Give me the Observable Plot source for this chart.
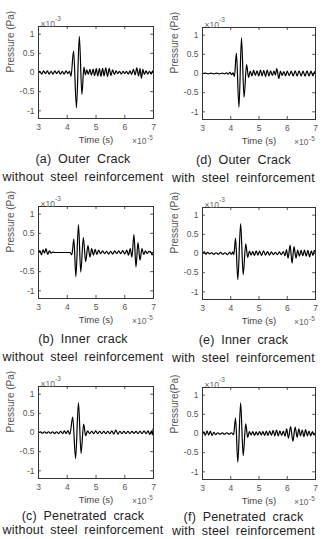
<!DOCTYPE html>
<html>
<head>
<meta charset="utf-8">
<script src="https://cdn.jsdelivr.net/npm/d3@7"></script>
<script src="https://cdn.jsdelivr.net/npm/@observablehq/plot@0.6"></script>
<style>
  body { margin: 0; background: #fff; font-family: "Liberation Sans", Arial, sans-serif; }
  #wrap { position: relative; width: 325px; height: 539px; overflow: hidden; background: #fff; }
  .panel { position: absolute; }
  .cap { position: absolute; text-align: center; white-space: nowrap; color: #222;
         font-size: 12.5px; line-height: 18px; word-spacing: 3px; letter-spacing: 0.2px; }
</style>
</head>
<body>
<div id="wrap"></div>
<script>
// Time axis in units of 1e-5 s, pressure in units of 1e-3 Pa.
const xTicks = [3, 4, 5, 6, 7];
const yTicks = [-1, -0.5, 0, 0.5, 1];
const panelTags = ["(a) Outer Crack", "(b) Inner crack", "(c) Penetrated crack",
                   "(d) Outer Crack", "(e) Inner crack", "(f) Penetrated crack"];
const steelNotes = ["without steel reinforcement", "with steel reinforcement"];
const yTitles = ["Pressure (Pa)", "Pressure (Pa)", "Pressure (Pa)",
                 "Pressure (Pa)", "Pressure (Pa)", "Pressure(Pa)"];

// Received pressure signals, [time, pressure] at successive peaks and troughs.
const outerWithout = [
  [3.00,0.00],[3.05,0.03],[3.11,-0.04],[3.18,0.04],[3.24,-0.03],[3.31,0.04],[3.37,-0.04],
  [3.44,0.03],[3.50,-0.04],[3.57,0.04],[3.63,-0.03],[3.70,0.04],[3.76,-0.04],[3.83,0.03],
  [3.89,-0.04],[3.96,0.04],[4.02,-0.03],[4.08,0.03],[4.13,-0.10],
  [4.22,0.56],[4.32,-0.92],[4.42,0.94],[4.51,-0.57],[4.58,0.14],[4.63,-0.06],
  [4.68,0.07],[4.73,-0.05],[4.79,0.08],[4.84,-0.07],[4.90,0.09],[4.95,-0.08],[5.01,0.10],
  [5.06,-0.09],[5.12,0.10],[5.17,-0.10],[5.23,0.11],[5.28,-0.09],[5.34,0.12],[5.40,-0.10],
  [5.46,0.11],[5.52,-0.08],[5.58,0.07],[5.64,-0.05],[5.70,0.04],[5.76,-0.03],[5.82,0.03],
  [5.88,-0.04],[5.94,0.03],[6.00,-0.03],[6.06,0.03],[6.12,-0.04],[6.18,0.04],[6.24,-0.05],
  [6.30,0.08],[6.36,-0.06],[6.42,0.12],[6.48,-0.09],[6.53,0.10],[6.58,-0.15],[6.63,0.08],
  [6.68,-0.05],[6.74,0.04],[6.80,-0.04],[6.86,0.03],[6.92,-0.04],[6.97,0.04],[7.00,0.00]
];
const innerWithout = [
  [3.00,0.00],[3.05,0.05],[3.10,-0.06],[3.16,0.07],[3.21,-0.02],[3.26,0.10],[3.32,-0.05],
  [3.38,0.04],[3.44,-0.02],[3.50,0.01],[3.60,0.00],[3.70,0.00],[3.80,0.00],[3.90,0.00],
  [4.00,0.00],[4.10,0.00],[4.16,-0.06],
  [4.23,0.35],[4.30,-0.63],[4.39,0.73],[4.47,-0.51],[4.56,0.39],[4.64,-0.24],[4.72,0.18],
  [4.79,-0.12],[4.85,0.10],[4.91,-0.07],[4.97,0.08],[5.03,-0.05],[5.09,0.06],[5.16,-0.03],
  [5.23,0.04],[5.30,-0.03],[5.37,0.03],[5.44,-0.04],[5.51,0.03],[5.58,-0.04],[5.65,0.04],
  [5.72,-0.03],[5.79,0.04],[5.86,-0.03],[5.93,0.05],[6.00,-0.04],[6.07,0.06],[6.13,-0.07],
  [6.19,0.10],[6.25,-0.12],
  [6.32,0.47],[6.39,-0.38],[6.46,0.26],[6.53,-0.20],[6.60,0.10],[6.66,-0.05],[6.72,0.04],
  [6.78,-0.03],[6.84,0.03],[6.90,0.02],[6.95,-0.06],[7.00,0.00]
];
const penetratedWithout = [
  [3.00,0.00],[3.07,0.02],[3.14,-0.02],[3.21,0.02],[3.28,-0.02],[3.35,0.02],[3.42,-0.02],
  [3.49,0.02],[3.56,-0.03],[3.63,0.02],[3.70,-0.03],[3.77,0.03],[3.84,-0.03],[3.90,0.04],
  [3.96,-0.03],[4.02,0.05],[4.09,-0.05],
  [4.19,0.40],[4.29,-0.68],[4.39,0.78],[4.48,-0.55],[4.57,0.22],[4.64,-0.08],
  [4.71,0.04],[4.78,-0.03],[4.85,0.03],[4.92,-0.03],[4.99,0.04],[5.06,-0.03],[5.13,0.03],
  [5.20,-0.03],[5.27,0.03],[5.34,-0.03],[5.41,0.03],[5.48,-0.03],[5.55,0.04],[5.62,-0.04],
  [5.69,0.06],[5.76,-0.04],[5.83,0.03],[5.90,-0.03],[5.97,0.03],[6.04,-0.03],[6.11,0.03],
  [6.18,-0.03],[6.25,0.03],[6.32,-0.02],[6.39,0.03],[6.46,-0.03],[6.53,0.03],[6.60,-0.03],
  [6.67,0.04],[6.74,-0.03],[6.81,0.04],[6.87,-0.05],[6.93,0.04],[6.96,-0.06],[6.99,0.10]
];
const outerWith = [
  [3.00,0.00],[3.10,0.01],[3.20,-0.01],[3.30,0.01],[3.40,-0.01],[3.50,0.01],[3.60,-0.01],
  [3.70,0.01],[3.78,-0.01],[3.85,0.02],[3.91,-0.02],[3.97,0.03],[4.03,-0.03],[4.08,0.02],
  [4.13,-0.08],
  [4.20,0.53],[4.29,-0.88],[4.38,0.93],[4.47,-0.62],[4.56,0.23],[4.63,-0.10],
  [4.69,0.06],[4.75,-0.06],[4.81,0.08],[4.87,-0.05],[4.93,0.07],[4.99,-0.07],[5.05,0.09],
  [5.11,-0.06],[5.17,0.08],[5.23,-0.08],[5.29,0.09],[5.35,-0.06],[5.41,0.07],[5.47,-0.05],
  [5.53,0.06],[5.58,-0.04],[5.63,0.13],[5.70,-0.13],[5.76,0.06],[5.82,-0.05],[5.88,0.05],
  [5.94,-0.06],[6.00,0.06],[6.07,-0.05],[6.14,0.06],[6.21,-0.06],[6.28,0.07],[6.35,-0.06],
  [6.42,0.07],[6.49,-0.06],[6.56,0.06],[6.63,-0.07],[6.70,0.07],[6.77,-0.06],[6.84,0.06],
  [6.91,-0.06],[6.97,0.05],[7.00,0.00]
];
const innerWith = [
  [3.00,0.00],[3.06,0.04],[3.12,-0.02],[3.18,0.03],[3.25,-0.01],[3.32,0.02],[3.40,-0.02],
  [3.48,0.02],[3.56,-0.02],[3.64,0.03],[3.72,-0.02],[3.80,0.02],[3.88,-0.03],[3.96,0.03],
  [4.03,-0.02],[4.07,0.04],[4.11,-0.03],
  [4.17,0.40],[4.25,-0.68],[4.35,0.78],[4.44,-0.55],[4.53,0.25],[4.60,-0.10],
  [4.66,0.06],[4.72,-0.04],[4.78,0.05],[4.84,-0.05],[4.90,0.07],[4.96,-0.04],[5.02,0.06],
  [5.09,-0.05],[5.16,0.07],[5.23,-0.04],[5.30,0.05],[5.37,-0.04],[5.44,0.04],[5.51,-0.03],
  [5.58,0.03],[5.65,-0.03],[5.72,0.04],[5.79,-0.03],[5.86,0.05],[5.92,-0.06],
  [5.97,0.10],[6.03,-0.12],[6.10,0.22],[6.17,-0.25],[6.24,0.18],[6.31,-0.12],[6.37,0.09],
  [6.43,-0.07],[6.49,0.08],[6.55,-0.06],[6.61,0.09],[6.67,-0.07],[6.73,0.08],[6.79,-0.09],
  [6.85,0.07],[6.91,-0.05],[6.96,0.08],[7.00,0.02]
];
const penetratedWith = [
  [3.00,0.00],[3.05,0.04],[3.10,-0.05],[3.16,0.07],[3.22,-0.04],[3.28,0.06],[3.34,-0.05],
  [3.40,0.03],[3.47,-0.03],[3.54,0.02],[3.62,-0.02],[3.70,0.02],[3.78,-0.02],[3.86,0.02],
  [3.94,-0.02],[4.02,0.02],[4.10,-0.03],
  [4.17,0.40],[4.25,-0.75],[4.35,0.80],[4.44,-0.58],[4.53,0.25],[4.60,-0.10],
  [4.66,0.05],[4.72,-0.04],[4.78,0.05],[4.84,-0.05],[4.90,0.04],[4.96,-0.04],[5.02,0.05],
  [5.08,-0.04],[5.14,0.05],[5.20,-0.05],[5.26,0.06],[5.32,-0.05],[5.38,0.07],[5.44,-0.05],
  [5.50,0.08],[5.56,-0.06],[5.62,0.09],[5.68,-0.06],[5.74,0.07],[5.80,-0.05],[5.86,0.06],
  [5.92,-0.07],
  [5.98,0.12],[6.04,-0.12],[6.12,0.18],[6.20,-0.20],[6.28,0.17],[6.35,-0.10],[6.41,0.12],
  [6.47,-0.06],[6.53,0.09],[6.59,-0.08],[6.65,0.10],[6.71,-0.06],[6.77,0.06],[6.83,-0.06],
  [6.89,0.05],[6.95,-0.04],[7.00,0.03]
];

const seriesList = [outerWithout, innerWithout, penetratedWithout, outerWith, innerWith, penetratedWith];

const wrap = document.getElementById("wrap");
const font = "'Liberation Sans', Arial, sans-serif";
const [xMin, xMax] = [3, 7];
const [yMin, yMax] = [-1.2, 1.2];

seriesList.forEach((series, i) => {
  const col = i < 3 ? 0 : 1;
  const row = i % 3;
  const left = col === 0 ? 0 : 162;
  const top = row * 180 + (col === 0 ? 0 : 1);
  const width = col === 0 ? 162 : 163;
  const mL = col === 0 ? 38 : 40;
  const mR = col === 0 ? 9 : 10;
  const rows = series.map(([t, p]) => ({t, p}));

  const chart = Plot.plot({
    width, height: 158,
    marginTop: 26, marginBottom: 40, marginLeft: mL, marginRight: mR,
    style: {fontFamily: font, fontSize: "8.5px", color: "#555", background: "transparent", overflow: "visible"},
    x: {domain: [xMin, xMax], ticks: xTicks, tickSize: 0, tickPadding: 5, label: null, tickFormat: d => String(d)},
    y: {domain: [yMin, yMax], ticks: yTicks, tickSize: 0, tickPadding: 4, label: null, tickFormat: d => String(d)},
    marks: [
      // inward tick marks on all four sides of the box
      Plot.ruleX(xTicks, {x: d => d, y1: yMin, y2: yMin + 0.08, stroke: "#555"}),
      Plot.ruleX(xTicks, {x: d => d, y1: yMax, y2: yMax - 0.08, stroke: "#555"}),
      Plot.ruleY(yTicks, {y: d => d, x1: xMin, x2: xMin + 0.1, stroke: "#555"}),
      Plot.ruleY(yTicks, {y: d => d, x1: xMax, x2: xMax - 0.1, stroke: "#555"}),
      Plot.line(rows, {x: "t", y: "p", curve: "monotone-x", stroke: "#000", strokeWidth: 1.2}),
      Plot.frame({stroke: "#333", strokeWidth: 1}),
      Plot.text([yTitles[i]], {text: d => d, frameAnchor: "left", rotate: -90, dx: -28, fontSize: 10, fill: "#555"}),
      // exponent note above the box: ×10 with a raised -3
      Plot.text(["×10"], {text: d => d, frameAnchor: "top-left", textAnchor: "start", dx: 2, dy: -6, fontSize: 8.5, fill: "#666"}),
      Plot.text(["-3"], {text: d => d, frameAnchor: "top-left", textAnchor: "start", dx: 16.5, dy: -10, fontSize: 6.5, fill: "#666"}),
      Plot.text(["Time (s)"], {text: d => d, frameAnchor: "bottom", dy: 24, fontSize: 9.5, fill: "#444"}),
      // exponent note under the time axis: ×10 with a raised -5
      Plot.text(["×10"], {text: d => d, frameAnchor: "bottom-right", textAnchor: "end", dx: -7, dy: 25, fontSize: 8.5, fill: "#666"}),
      Plot.text(["-5"], {text: d => d, frameAnchor: "bottom-right", textAnchor: "start", dx: -6.5, dy: 21, fontSize: 6.5, fill: "#666"})
    ]
  });

  const box = document.createElement("div");
  box.className = "panel";
  box.style.left = left + "px";
  box.style.top = top + "px";
  box.appendChild(chart);
  wrap.appendChild(box);

  const cap = document.createElement("div");
  cap.className = "cap";
  cap.style.left = left + "px";
  cap.style.width = (col === 0 ? 166 : 163) + "px";
  if (row === 2) {
    // bottom row: tighter lines so the second line stays inside the page
    cap.style.top = (top + 149) + "px";
    cap.style.lineHeight = "14px";
  } else {
    cap.style.top = (top + 150) + "px";
  }
  const l1 = document.createElement("div");
  l1.textContent = panelTags[i];
  const l2 = document.createElement("div");
  l2.textContent = steelNotes[col];
  cap.appendChild(l1);
  cap.appendChild(l2);
  wrap.appendChild(cap);
});
</script>
</body>
</html>
